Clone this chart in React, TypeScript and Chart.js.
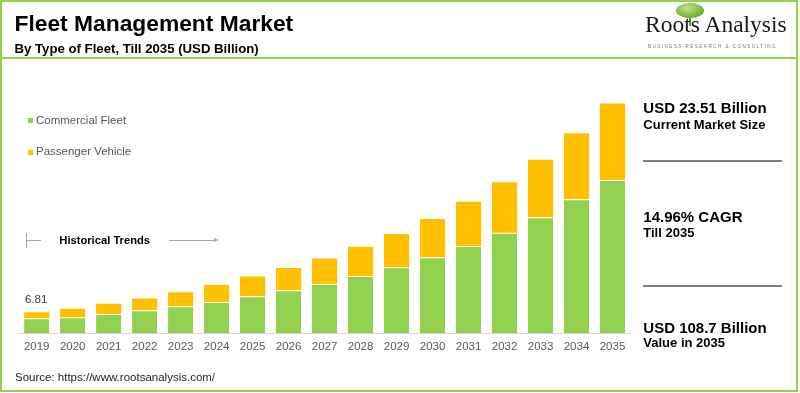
import React, { useEffect, useRef } from "react";
import { Chart, registerables } from "chart.js";

Chart.register(...registerables);

const years = ["2019","2020","2021","2022","2023","2024","2025","2026","2027","2028","2029","2030","2031","2032","2033","2034","2035"];
const commercialFleet = [7.1, 7.6, 9.1, 10.9, 12.8, 14.8, 17.5, 20.3, 23.3, 27.1, 31.2, 35.9, 41.3, 47.5, 54.8, 63.3, 72.4];
const passengerVehicle = [2.8, 4.0, 4.9, 5.5, 6.6, 8.0, 9.4, 10.6, 12.1, 13.8, 15.7, 18.1, 20.9, 23.9, 27.2, 31.2, 36.3];
const seriesNames = ["Commercial Fleet", "Passenger Vehicle"];
const seriesColors = ["#92d050", "#ffc000"];
const firstLabel = "6.81";

const SANS = "'Liberation Sans', Arial, sans-serif";
const SERIF = "'Liberation Serif', 'Times New Roman', serif";

const W = 800;
const H = 393;

function Txt(props: { x: number; y: number; size: number; bold?: boolean; color?: string; children: React.ReactNode; family?: string; spacing?: number }) {
  return (
    <div
      style={{
        position: "absolute",
        left: props.x,
        top: props.y,
        fontSize: props.size,
        lineHeight: 1,
        fontWeight: props.bold ? 700 : 400,
        color: props.color || "#000",
        fontFamily: props.family || SANS,
        whiteSpace: "nowrap",
        letterSpacing: props.spacing || 0,
      }}
    >
      {props.children}
    </div>
  );
}

export default function App() {
  const canvasRef = useRef<HTMLCanvasElement | null>(null);

  useEffect(() => {
    const canvas = canvasRef.current;
    if (!canvas) return;
    const chart = new Chart(canvas, {
      type: "bar",
      data: {
        labels: years,
        datasets: [
          {
            label: seriesNames[0],
            data: commercialFleet,
            backgroundColor: seriesColors[0],
            borderColor: "rgba(255,255,240,0.75)",
            borderWidth: { top: 1, left: 0, right: 0, bottom: 0 },
            borderSkipped: false,
          },
          {
            label: seriesNames[1],
            data: passengerVehicle,
            backgroundColor: seriesColors[1],
            borderWidth: 0,
          },
        ],
      },
      options: {
        responsive: false,
        animation: false,
        devicePixelRatio: 1,
        layout: { padding: { left: 18.7, right: 169.5, top: 103.3, bottom: 0 } },
        datasets: { bar: { categoryPercentage: 1, barPercentage: 0.7 } },
        plugins: {
          legend: { display: false },
          title: { display: false },
          tooltip: { enabled: false },
        },
        scales: {
          x: {
            stacked: true,
            grid: { display: false, drawTicks: false },
            border: { display: true, color: "#d9d9d9", width: 1 },
            ticks: {
              color: "#595959",
              font: { family: SANS, size: 11.5 },
              padding: 6.5,
              maxRotation: 0,
              autoSkip: false,
            },
            afterFit: (scale: any) => {
              scale.height = 59.7;
            },
          },
          y: {
            stacked: true,
            display: false,
            min: 0,
            max: 108.7,
          },
        },
      },
    });
    return () => chart.destroy();
  }, []);

  return (
    <div style={{ position: "absolute", left: 0, top: 0, width: W, height: H, background: "#fff", overflow: "hidden" }}>
      <canvas ref={canvasRef} width={W} height={H} style={{ position: "absolute", left: 0, top: 0, width: W, height: H }} />
      {/* frame */}
      <div style={{ position: "absolute", left: 0, top: 0, width: 798, height: 392, border: "2px solid #92d050", boxSizing: "border-box" }} />
      <div style={{ position: "absolute", left: 0, top: 57, width: 798, height: 2, background: "#92d050" }} />

      {/* header */}
      <Txt x={14.5} y={12.4} size={22.8} bold color="#000">Fleet Management Market</Txt>
      <Txt x={14.5} y={41.7} size={13.2} bold color="#000">By Type of Fleet, Till 2035 (USD Billion)</Txt>

      {/* logo */}
      <div style={{ position: "absolute", left: 689, top: 14, width: 2, height: 12, background: "#6b8f45" }} />
      <div style={{ position: "absolute", left: 676, top: 3, width: 28, height: 15, borderRadius: "50%", background: "radial-gradient(ellipse at 40% 35%, #c6e28a 0%, #7dbb3f 55%, #3f8a2a 100%)" }} />
      <Txt x={645} y={13} size={23.5} family={SERIF} color="#1a1a1a">Roots Analysis</Txt>
      <Txt x={648} y={44.5} size={4.6} color="#777" spacing={1.45}>BUSINESS RESEARCH &amp; CONSULTING</Txt>

      {/* legend */}
      <div style={{ position: "absolute", left: 28, top: 118, width: 5, height: 5, background: seriesColors[0] }} />
      <Txt x={36} y={114.6} size={11.5} color="#595959">{seriesNames[0]}</Txt>
      <div style={{ position: "absolute", left: 28, top: 150, width: 5, height: 5, background: seriesColors[1] }} />
      <Txt x={36} y={146.4} size={11.5} color="#595959">{seriesNames[1]}</Txt>

      {/* historical trends */}
      <div style={{ position: "absolute", left: 26, top: 233, width: 1, height: 15, background: "#a6a6a6" }} />
      <div style={{ position: "absolute", left: 26, top: 240, width: 15, height: 1, background: "#a6a6a6" }} />
      <Txt x={59.3} y={234.8} size={11.2} bold color="#000">Historical Trends</Txt>
      <div style={{ position: "absolute", left: 169, top: 240, width: 47, height: 1, background: "#a6a6a6" }} />
      <div style={{ position: "absolute", left: 214, top: 238, width: 0, height: 0, borderTop: "2.5px solid transparent", borderBottom: "2.5px solid transparent", borderLeft: "5px solid #a6a6a6" }} />

      {/* first value label */}
      <Txt x={25} y={293.7} size={11.5} color="#404040">{firstLabel}</Txt>

      {/* right panel */}
      <Txt x={643.3} y={99.6} size={15} bold color="#000">USD 23.51 Billion</Txt>
      <Txt x={643.3} y={117.5} size={13} bold color="#000">Current Market Size</Txt>
      <div style={{ position: "absolute", left: 643, top: 160, width: 139, height: 2, background: "#808080" }} />
      <Txt x={643.3} y={209} size={15} bold color="#000">14.96% CAGR</Txt>
      <Txt x={643.3} y={225.7} size={13} bold color="#000">Till 2035</Txt>
      <div style={{ position: "absolute", left: 643, top: 285, width: 139, height: 2, background: "#808080" }} />
      <Txt x={643.3} y={319.6} size={15} bold color="#000">USD 108.7 Billion</Txt>
      <Txt x={643.3} y={335.7} size={13} bold color="#000">Value in 2035</Txt>

      {/* source */}
      <Txt x={15} y={372.3} size={11.5} color="#262626">Source: https://www.rootsanalysis.com/</Txt>
    </div>
  );
}
